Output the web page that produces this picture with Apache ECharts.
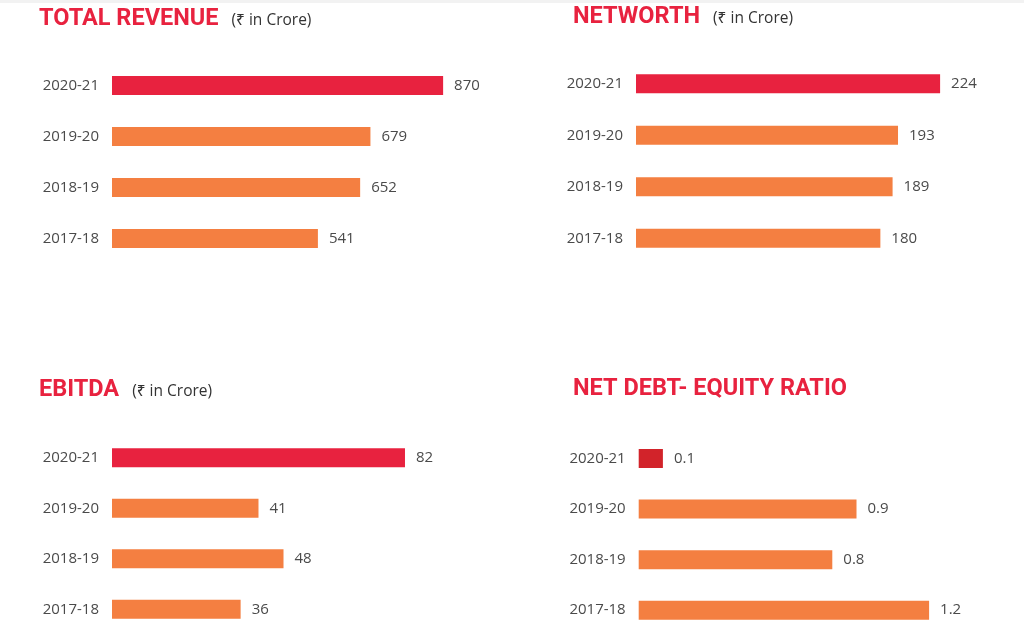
<!DOCTYPE html>
<html>
<head>
<meta charset="utf-8">
<script src="https://cdn.jsdelivr.net/npm/echarts@6/dist/echarts.min.js"></script>
<style>
html,body{margin:0;padding:0;background:#fff;}
#main{width:1024px;height:638px;}
</style>
</head>
<body>
<div id="main"></div>
<script>
const categories = ['2020-21', '2019-20', '2018-19', '2017-18'];
const revenue = [870, 679, 652, 541];
const networth = [224, 193, 189, 180];
const ebitda = [82, 41, 48, 36];
const debtEquity = [0.1, 0.9, 0.8, 1.2];
const titles = ['TOTAL REVENUE', 'NETWORTH', 'EBITDA', 'NET DEBT- EQUITY RATIO'];
const unitText = '(₹ in Crore)';

const RED = '#E8223F';
const ORANGE = '#F47F41';
const DARKRED = '#D2232A';
const TEXT = '#4a4a4a';

const panels = [
  {data: revenue, max: 1000, grid: {left: 112, top: 60, width: 380.6, height: 204}, first: RED, title: titles[0], unit: true, tl: 39, tt: 7},
  {data: networth, max: 250, grid: {left: 636, top: 58, width: 339.4, height: 206}, first: RED, title: titles[1], unit: true, tl: 573, tt: 5},
  {data: ebitda, max: 100, grid: {left: 112, top: 432.5, width: 357.3, height: 202}, first: RED, title: titles[2], unit: true, tl: 39, tt: 378},
  {data: debtEquity, max: 1.5, grid: {left: 638.7, top: 433.2, width: 363, height: 202.3}, first: DARKRED, title: titles[3], unit: false, tl: 573, tt: 377}
];

const option = {
  backgroundColor: '#ffffff',
  animation: false,
  graphic: [{type: 'rect', shape: {x: 0, y: 0, width: 1024, height: 3}, style: {fill: '#f2f2f2'}, silent: true}],
  title: panels.map(p => ({
    left: p.tl, top: p.tt, padding: 0,
    text: p.unit ? '{a|' + p.title + '}{b|' + unitText + '}' : '{a|' + p.title + '}',
    textStyle: {
      rich: {
        a: {fontSize: 23.5, fontWeight: 'bold', fontFamily: 'Roboto', color: RED},
        b: {fontSize: 15.5, fontWeight: 'normal', fontFamily: 'Open Sans, Noto Sans', color: '#333333', padding: [3, 0, 0, 13]}
      }
    }
  })),
  grid: panels.map(p => Object.assign({containLabel: false}, p.grid)),
  xAxis: panels.map((p, i) => ({
    type: 'value', gridIndex: i, min: 0, max: p.max, show: false
  })),
  yAxis: panels.map((p, i) => ({
    type: 'category', gridIndex: i, data: categories, inverse: true,
    axisLine: {show: false}, axisTick: {show: false}, splitLine: {show: false},
    axisLabel: {margin: 13, fontSize: 15, color: TEXT, fontFamily: 'Open Sans'}
  })),
  series: panels.map((p, i) => ({
    type: 'bar', xAxisIndex: i, yAxisIndex: i, barWidth: 19,
    data: p.data.map((v, j) => ({value: v, itemStyle: {color: j === 0 ? p.first : ORANGE}})),
    label: {show: true, position: 'right', distance: 11, fontSize: 15, color: TEXT, fontFamily: 'Open Sans'}
  }))
};

echarts.init(document.getElementById('main'), null, {renderer: 'canvas'}).setOption(option);
</script>
</body>
</html>
